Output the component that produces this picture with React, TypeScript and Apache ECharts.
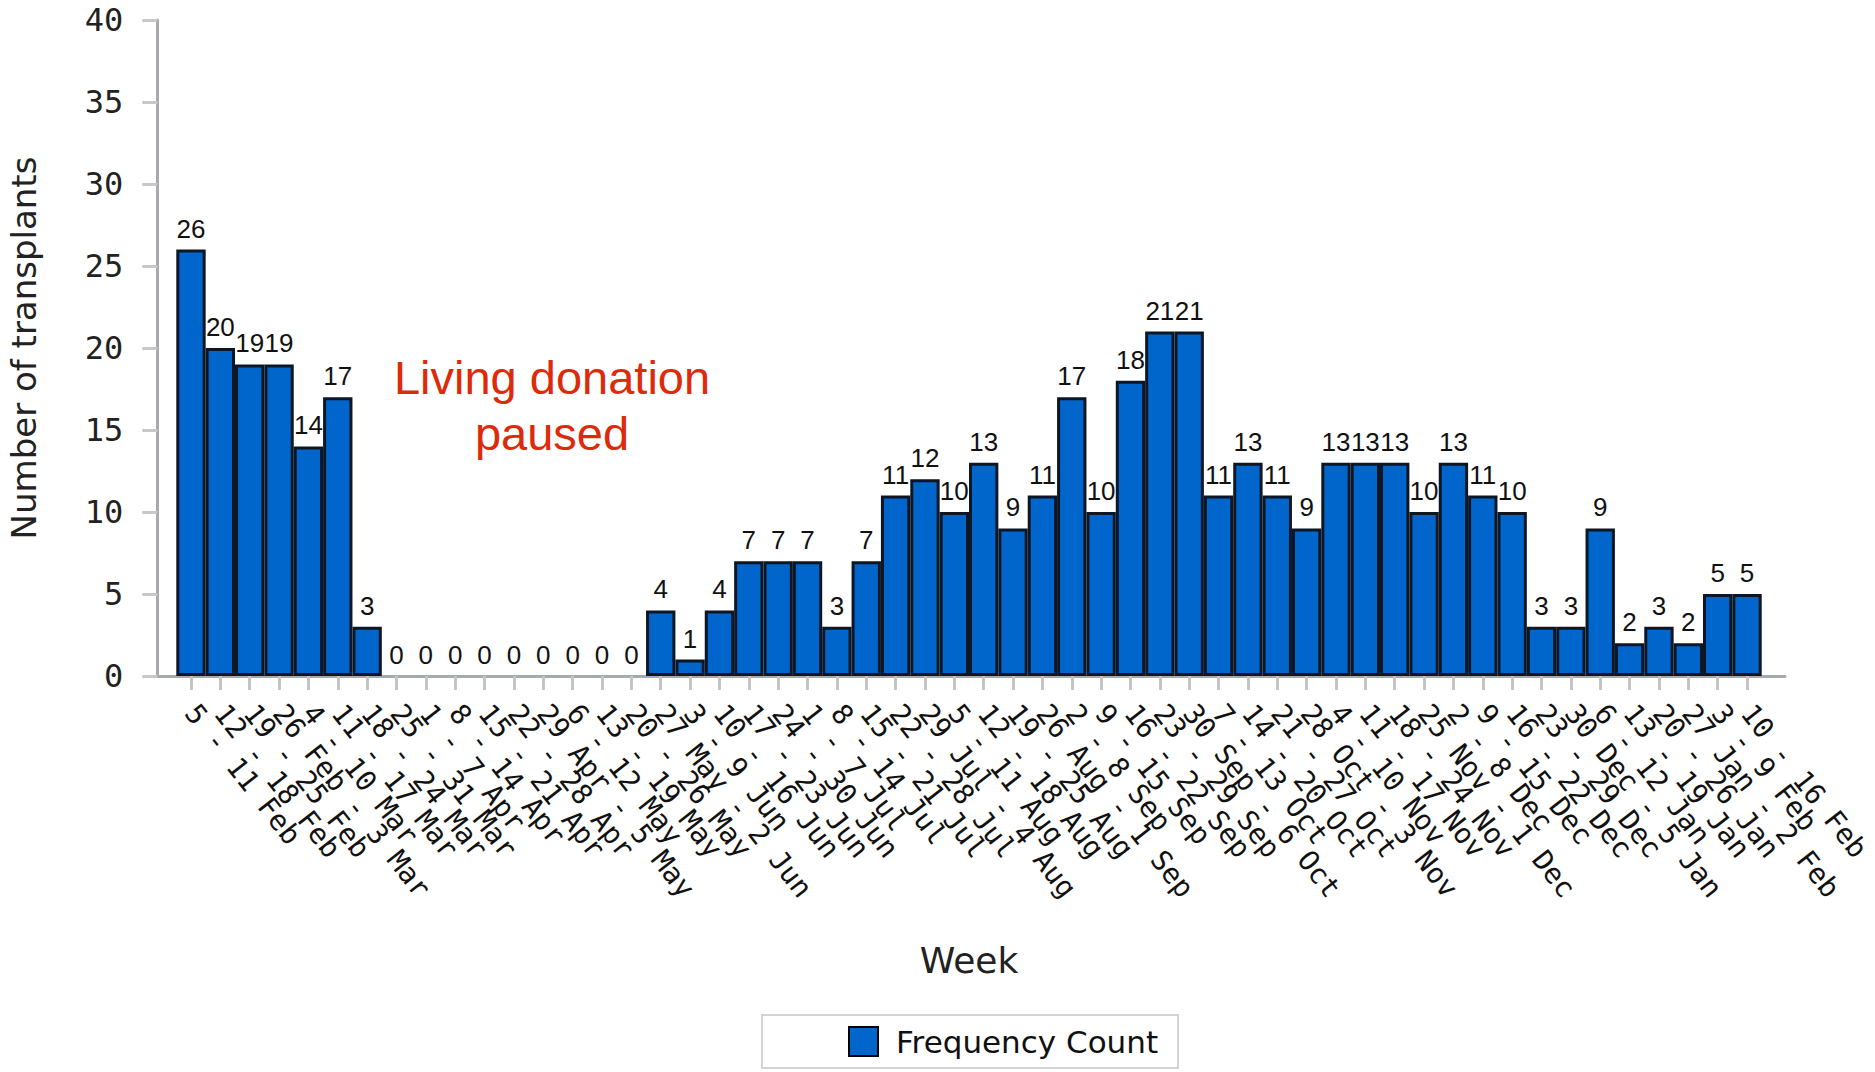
import React, { useEffect, useRef } from "react";
import * as echarts from "echarts";

const weekLabels: string[] = [
  "5 - 11 Feb", "12 - 18 Feb", "19 - 25 Feb", "26 Feb - 3 Mar",
  "4 - 10 Mar", "11 - 17 Mar", "18 - 24 Mar", "25 - 31 Mar",
  "1 - 7 Apr", "8 - 14 Apr", "15 - 21 Apr", "22 - 28 Apr", "29 Apr - 5 May",
  "6 - 12 May", "13 - 19 May", "20 - 26 May", "27 May - 2 Jun",
  "3 - 9 Jun", "10 - 16 Jun", "17 - 23 Jun", "24 - 30 Jun",
  "1 - 7 Jul", "8 - 14 Jul", "15 - 21 Jul", "22 - 28 Jul", "29 Jul - 4 Aug",
  "5 - 11 Aug", "12 - 18 Aug", "19 - 25 Aug", "26 Aug - 1 Sep",
  "2 - 8 Sep", "9 - 15 Sep", "16 - 22 Sep", "23 - 29 Sep", "30 Sep - 6 Oct",
  "7 - 13 Oct", "14 - 20 Oct", "21 - 27 Oct", "28 Oct - 3 Nov",
  "4 - 10 Nov", "11 - 17 Nov", "18 - 24 Nov", "25 Nov - 1 Dec",
  "2 - 8 Dec", "9 - 15 Dec", "16 - 22 Dec", "23 - 29 Dec", "30 Dec - 5 Jan",
  "6 - 12 Jan", "13 - 19 Jan", "20 - 26 Jan", "27 Jan - 2 Feb",
  "3 - 9 Feb", "10 - 16 Feb",
];

const frequencyCount: number[] = [
  26, 20, 19, 19, 14, 17, 3,
  0, 0, 0, 0, 0, 0, 0, 0, 0,
  4, 1, 4, 7, 7, 7, 3, 7,
  11, 12, 10, 13, 9, 11, 17, 10, 18, 21, 21,
  11, 13, 11, 9, 13, 13, 13, 10, 13, 11, 10,
  3, 3, 9, 2, 3, 2, 5, 5,
];

const yTicks = { min: 0, max: 40, interval: 5 };

const seriesName = "Frequency Count";
const yAxisTitle = "Number of transplants";
const xAxisTitle = "Week";
const annotation = "Living donation\npaused";

export default function App() {
  const ref = useRef<HTMLDivElement>(null);

  useEffect(() => {
    if (!ref.current) return;
    const chart = echarts.init(ref.current, null, { renderer: "svg" });

    const barData = frequencyCount.map((v) =>
      v === 0 ? { value: v, itemStyle: { borderWidth: 0 } } : { value: v }
    );

    const option: any = {
      animation: false,
      backgroundColor: "#ffffff",
      grid: [
        { left: 176.3, right: 113.3, top: 20, bottom: 396, outerBoundsMode: "none", containLabel: false },
        { left: 157, right: 90, top: 20, bottom: 396, outerBoundsMode: "none", containLabel: false },
      ],
      xAxis: [
        {
          type: "category",
          gridIndex: 0,
          data: weekLabels,
          axisLine: { show: false },
          axisTick: {
            show: true,
            alignWithLabel: true,
            length: 14,
            lineStyle: { color: "#c4c4c4", width: 3 },
          },
          axisLabel: {
            interval: 0,
            rotate: -52,
            fontSize: 28,
            fontFamily: "'DejaVu Sans Mono', monospace",
            color: "#111",
            margin: 32,
            hideOverlap: false,
          },
          name: xAxisTitle,
          nameLocation: "middle",
          nameGap: 266,
          nameMoveOverlap: false,
          nameTextStyle: {
            fontSize: 36,
            fontFamily: "'DejaVu Sans', sans-serif",
            color: "#222",
          },
        },
        {
          type: "value",
          gridIndex: 1,
          min: 0,
          max: 1,
          axisLine: { show: true, lineStyle: { color: "#a6a9ad", width: 3 } },
          axisTick: { show: false },
          axisLabel: { show: false },
          splitLine: { show: false },
        },
      ],
      yAxis: [
        {
          type: "value",
          gridIndex: 0,
          min: yTicks.min,
          max: yTicks.max,
          interval: yTicks.interval,
          offset: 19,
          axisLine: { show: true, lineStyle: { color: "#a6a9ad", width: 3 } },
          axisTick: {
            show: true,
            length: 15,
            lineStyle: { color: "#c8c8c8", width: 3 },
          },
          axisLabel: {
            fontSize: 32,
            fontFamily: "'DejaVu Sans Mono', monospace",
            color: "#222",
            margin: 34,
          },
          splitLine: { show: false },
          name: yAxisTitle,
          nameLocation: "middle",
          nameGap: 116,
          nameRotate: 90,
          nameMoveOverlap: false,
          nameTextStyle: {
            fontSize: 34,
            fontFamily: "'DejaVu Sans', sans-serif",
            color: "#222",
          },
        },
        {
          type: "value",
          gridIndex: 1,
          min: 0,
          max: 40,
          show: false,
        },
      ],
      legend: {
        data: [
          {
            name: seriesName,
            icon: "rect",
            itemStyle: { color: "#0066cc", borderColor: "#000", borderWidth: 2 },
          },
        ],
        left: 762,
        top: 1015,
        itemWidth: 29,
        itemHeight: 29,
        padding: [11, 20, 11, 86],
        borderColor: "#d3d3d3",
        borderWidth: 2,
        textStyle: {
          fontSize: 31,
          fontFamily: "'DejaVu Sans', sans-serif",
          color: "#111",
          padding: [0, 0, 0, 13],
        },
      },
      series: [
        {
          name: seriesName,
          type: "bar",
          xAxisIndex: 0,
          yAxisIndex: 0,
          data: barData,
          barCategoryGap: "0%",
          itemStyle: {
            color: "#0066cc",
            borderColor: "#0c1624",
            borderWidth: 3,
          },
          label: {
            show: true,
            position: "top",
            distance: 8,
            fontSize: 26,
            fontFamily: "'Liberation Sans Narrow', 'Liberation Sans', sans-serif",
            color: "#111",
          },
        },
      ],
      graphic: [
        {
          type: "text",
          x: 552,
          y: 349,
          style: {
            text: annotation,
            fill: "#dc2a0a",
            fontSize: 47,
            fontFamily: "'Liberation Sans', Arial, sans-serif",
            textAlign: "center",
            textVerticalAlign: "top",
            lineHeight: 56,
          },
        },
      ],
    };

    chart.setOption(option);
    return () => chart.dispose();
  }, []);

  return (
    <div
      ref={ref}
      style={{ position: "fixed", left: 0, top: 0, width: "1875px", height: "1072px" }}
    />
  );
}
